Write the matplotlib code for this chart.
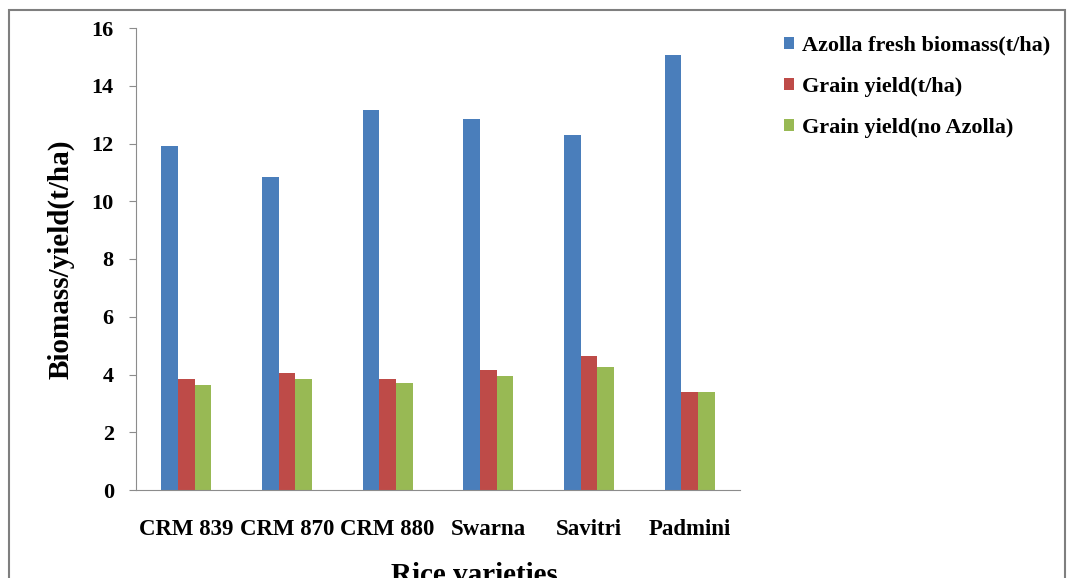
import numpy as np
import matplotlib
matplotlib.use('Agg')
import matplotlib.pyplot as plt
from matplotlib.patches import Rectangle

varieties = ['CRM 839', 'CRM 870', 'CRM 880', 'Swarna', 'Savitri', 'Padmini']
azolla_biomass = [11.9, 10.85, 13.15, 12.85, 12.3, 15.05]
grain_yield = [3.85, 4.05, 3.85, 4.15, 4.65, 3.4]
grain_yield_no_azolla = [3.65, 3.85, 3.7, 3.95, 4.25, 3.4]

series_names = ['Azolla fresh biomass(t/ha)', 'Grain yield(t/ha)', 'Grain yield(no Azolla)']
colors = ['#4A7EBB', '#BE4B48', '#98B954']

plt.rcParams['font.family'] = ['Liberation Serif', 'DejaVu Serif']
plt.rcParams['font.weight'] = 'bold'

fig = plt.figure(figsize=(10.69, 5.78), dpi=100)
ax = fig.add_axes([136 / 1069, 1 - 490 / 578, 604 / 1069, 462 / 578])

x = np.arange(len(varieties))
w = 0.165
for i, (vals, name, c) in enumerate(zip([azolla_biomass, grain_yield, grain_yield_no_azolla], series_names, colors)):
    ax.bar(x + (i - 1) * w, vals, width=w, color=c, label=name)

ax.set_xlim(-0.5, len(varieties) - 0.5)
ax.set_ylim(0, 16)
ax.set_yticks(range(0, 17, 2))
ax.set_xticks(x)
ax.set_xticklabels(varieties, fontsize=16.5, fontweight='bold')
ax.tick_params(axis='x', length=0, pad=21)
ax.tick_params(axis='y', length=5, color='#8c8c8c', direction='out', labelsize=16, pad=11)
for lab in ax.get_yticklabels():
    lab.set_fontweight('bold')

for side in ['top', 'right']:
    ax.spines[side].set_visible(False)
ax.spines['left'].set_color('#8c8c8c')
ax.spines['bottom'].set_color('#8c8c8c')

ax.set_ylabel('Biomass/yield(t/ha)', fontsize=21, fontweight='bold', labelpad=12)
ax.set_xlabel('Rice varieties', fontsize=21, fontweight='bold', labelpad=10)
ax.xaxis.set_label_coords(0.561, -0.155)

fig.legend(loc='upper left', bbox_to_anchor=(775 / 1069, 1 - 27 / 578), frameon=False,
           prop={'size': 16, 'weight': 'bold'}, handlelength=0.45, handleheight=0.45,
           handletextpad=0.35, labelspacing=0.95, borderaxespad=0)

# outer frame around the figure
fig.patches.append(Rectangle((9 / 1069, -0.1), 1056 / 1069, 1.1 - 10 / 578,
                             transform=fig.transFigure, fill=False,
                             edgecolor='#7f7f7f', linewidth=1.5))

fig.savefig('out.png', dpi=100)
